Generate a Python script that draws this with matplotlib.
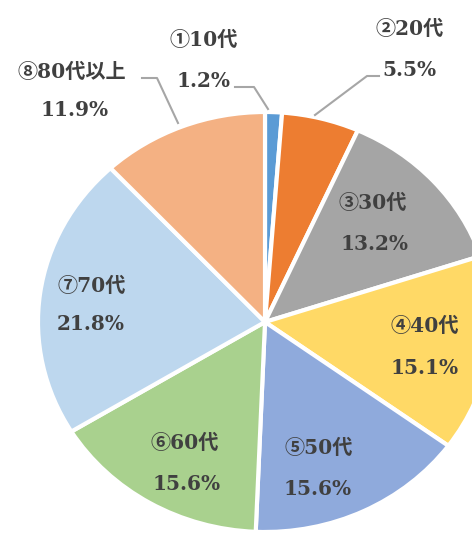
import matplotlib.pyplot as plt
from matplotlib.lines import Line2D

# age groups and their shares (%)
groups = ["①10代", "②20代", "③30代", "④40代", "⑤50代", "⑥60代", "⑦70代", "⑧80代以上"]
shares = [1.2, 5.5, 13.2, 15.1, 15.6, 15.6, 21.8, 11.9]
colors = ["#5B9BD5", "#ED7D31", "#A5A5A5", "#FFD966",
          "#8FAADC", "#A9D18E", "#BDD7EE", "#F4B183"]

# label centres in pixels (name, value) measured from the top-left corner
label_pos = [((204, 40), (204, 81)),
             ((410, 29), (409, 70)),
             ((373, 203), (375, 244)),
             ((425, 326), (425, 368)),
             ((319, 448), (318, 489)),
             ((185, 443), (187, 484)),
             ((92, 286), (91, 324)),
             ((72, 72), (75, 110))]

# leader lines for the outside labels (pixels)
leaders = [[(235, 87), (254, 87), (268, 109)],
           [(379, 76), (367, 76), (315, 115)],
           [(142, 78), (157, 78), (178, 123)]]

W, H = 472, 534
fig = plt.figure(figsize=(W / 100, H / 100), dpi=100)
ax = fig.add_axes([0, 0, 1, 1])

ax.pie(shares, colors=colors, startangle=90, counterclock=False,
       wedgeprops=dict(edgecolor="white", linewidth=3))

# the original pie is a bit wider than tall
cx, cy, rx, ry = 265, 322, 227, 210
ax.set_aspect("auto")
ax.set_xlim(-cx / rx, (W - cx) / rx)
ax.set_ylim(-(H - cy) / ry, cy / ry)
ax.axis("off")

font = ["DejaVu Serif", "Noto Sans CJK JP"]
for name, val, (p1, p2) in zip(groups, shares, label_pos):
    fig.text(p1[0] / W, 1 - p1[1] / H, name, ha="center", va="center",
             fontsize=14.5, fontweight="bold", color="#404040", family=font)
    fig.text(p2[0] / W, 1 - p2[1] / H, f"{val}%", ha="center", va="center",
             fontsize=14.5, fontweight="bold", color="#404040", family=font)

for pts in leaders:
    xs = [p[0] / W for p in pts]
    ys = [1 - p[1] / H for p in pts]
    fig.add_artist(Line2D(xs, ys, color="#A6A6A6", linewidth=1.5,
                          transform=fig.transFigure))

fig.savefig("out.png", dpi=100)
